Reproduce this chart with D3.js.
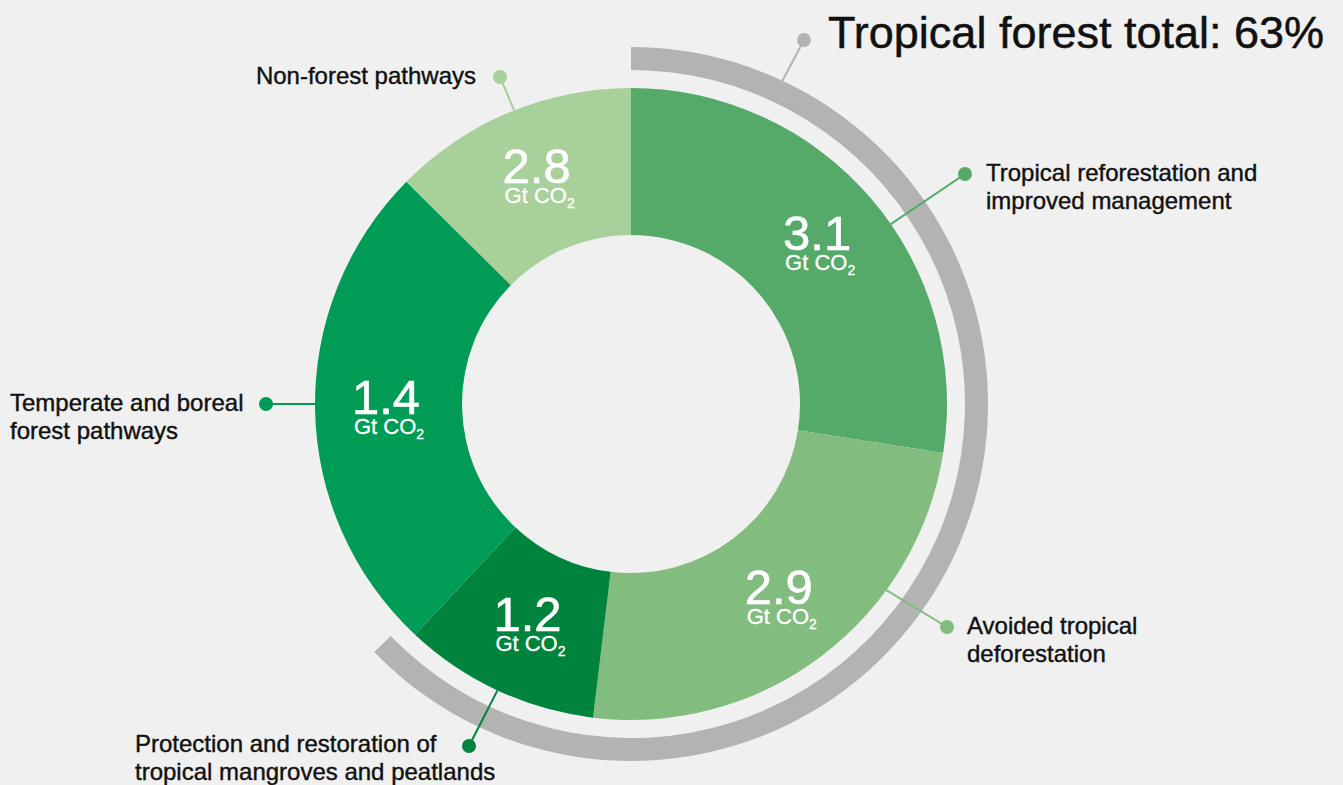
<!DOCTYPE html>
<html>
<head>
<meta charset="utf-8">
<script src="https://cdn.jsdelivr.net/npm/d3@7"></script>
<style>
  body { margin: 0; background: #f0f0f0; }
  svg { display: block; font-family: "Liberation Sans", Arial, sans-serif; }
</style>
</head>
<body>
<svg id="chart"></svg>
<script>
// slices, clockwise from 12 o'clock
const categories = [
    ['Tropical reforestation and', 'improved management'],
    ['Avoided tropical', 'deforestation'],
    ['Protection and restoration of', 'tropical mangroves and peatlands'],
    ['Temperate and boreal', 'forest pathways'],
    ['Non-forest pathways']
];
const values = [3.1, 2.9, 1.2, 1.4, 2.8];            // printed in each slice
const arcShare = [98.9, 88.0, 36.2, 91.6, 45.3];     // slice sizes as drawn in the source (deg)
const bandSpan = [0, 226];                           // grey "tropical" band, deg
const colors = ['#55aa69', '#82bd7f', '#00843d', '#009b55', '#a8d09a'];
const unitLabel = 'Gt CO';
const totalLabel = 'Tropical forest total: 63%';

// label placement: angle where the leader meets the ring (deg), dot, text x
const leaders = [
    {angle: 55.3, dot: [965, 174], tx: 986, anchor: 'start'},
    {angle: 126.1, dot: [947, 627], tx: 967, anchor: 'start'},
    {angle: 205, dot: [469, 746], tx: 135, anchor: 'start', ty: 752},
    {angle: 270, dot: [266, 404], tx: 10, anchor: 'start'},
    {angle: 338.3, dot: [500, 77], tx: 476, anchor: 'end'}
];

const width = 1343, height = 785;
const cx = 631, cy = 404;
const rInner = 169, rOuter = 316, rBandIn = 334, rBandOut = 357;
const rad = Math.PI / 180;

const svg = d3.select('#chart')
    .attr('width', width)
    .attr('height', height);

const g = svg.append('g')
    .attr('transform', `translate(${cx}, ${cy})`);

const pie = d3.pie().sort(null).value(d => d);
const arcs = pie(arcShare);

const arc = d3.arc().innerRadius(rInner).outerRadius(rOuter);
const labelArc = d3.arc().innerRadius(245).outerRadius(245);

g.selectAll('path.slice')
    .data(arcs)
    .join('path')
    .attr('class', 'slice')
    .attr('d', arc)
    .attr('fill', (d, i) => colors[i]);

// grey band round the tropical slices
g.append('path')
    .attr('d', d3.arc().innerRadius(rBandIn).outerRadius(rBandOut)
        .startAngle(bandSpan[0] * rad).endAngle(bandSpan[1] * rad)())
    .attr('fill', '#b3b3b3');

// values inside slices
const vlab = g.selectAll('g.vlab')
    .data(arcs)
    .join('g')
    .attr('class', 'vlab')
    .attr('transform', d => `translate(${labelArc.centroid(d)})`);

vlab.append('text')
    .attr('text-anchor', 'middle')
    .attr('y', 5)
    .attr('fill', '#fff')
    .attr('stroke', '#fff')
    .attr('stroke-width', 0.6)
    .style('font-size', '49px')
    .text((d, i) => values[i].toFixed(1));

const unit = vlab.append('text')
    .attr('text-anchor', 'middle')
    .attr('x', 3)
    .attr('y', 25)
    .attr('fill', '#fff')
    .attr('stroke', '#fff')
    .attr('stroke-width', 0.3)
    .style('font-size', '22px')
    .text(unitLabel);
unit.append('tspan')
    .attr('dy', 5)
    .style('font-size', '14px')
    .text('2');

// leader lines and category labels
const toXY = (deg, r) => [cx + r * Math.sin(deg * rad), cy - r * Math.cos(deg * rad)];

leaders.forEach((l, i) => {
    const p = toXY(l.angle, rOuter);
    svg.append('line')
        .attr('x1', p[0]).attr('y1', p[1])
        .attr('x2', l.dot[0]).attr('y2', l.dot[1])
        .attr('stroke', colors[i])
        .attr('stroke-width', 2);
    svg.append('circle')
        .attr('cx', l.dot[0]).attr('cy', l.dot[1])
        .attr('r', 7)
        .attr('fill', colors[i]);

    const t = svg.append('text')
        .attr('text-anchor', l.anchor)
        .attr('fill', '#111')
        .attr('stroke', '#111')
        .attr('stroke-width', 0.4)
        .style('font-size', '24px');
    const y0 = l.ty || l.dot[1] + 7;
    categories[i].forEach((line, j) => {
        t.append('tspan')
            .attr('x', l.tx)
            .attr('y', y0 + j * 28)
            .text(line);
    });
});

// total label
const tp = toXY(25.1, rBandOut);
svg.append('line')
    .attr('x1', tp[0]).attr('y1', tp[1])
    .attr('x2', 804).attr('y2', 40)
    .attr('stroke', '#b3b3b3')
    .attr('stroke-width', 2);
svg.append('circle')
    .attr('cx', 804).attr('cy', 40)
    .attr('r', 7)
    .attr('fill', '#b3b3b3');
svg.append('text')
    .attr('x', 828)
    .attr('y', 48)
    .attr('fill', '#111')
    .attr('stroke', '#111')
    .attr('stroke-width', 0.5)
    .style('font-size', '45px')
    .text(totalLabel);
</script>
</body>
</html>
